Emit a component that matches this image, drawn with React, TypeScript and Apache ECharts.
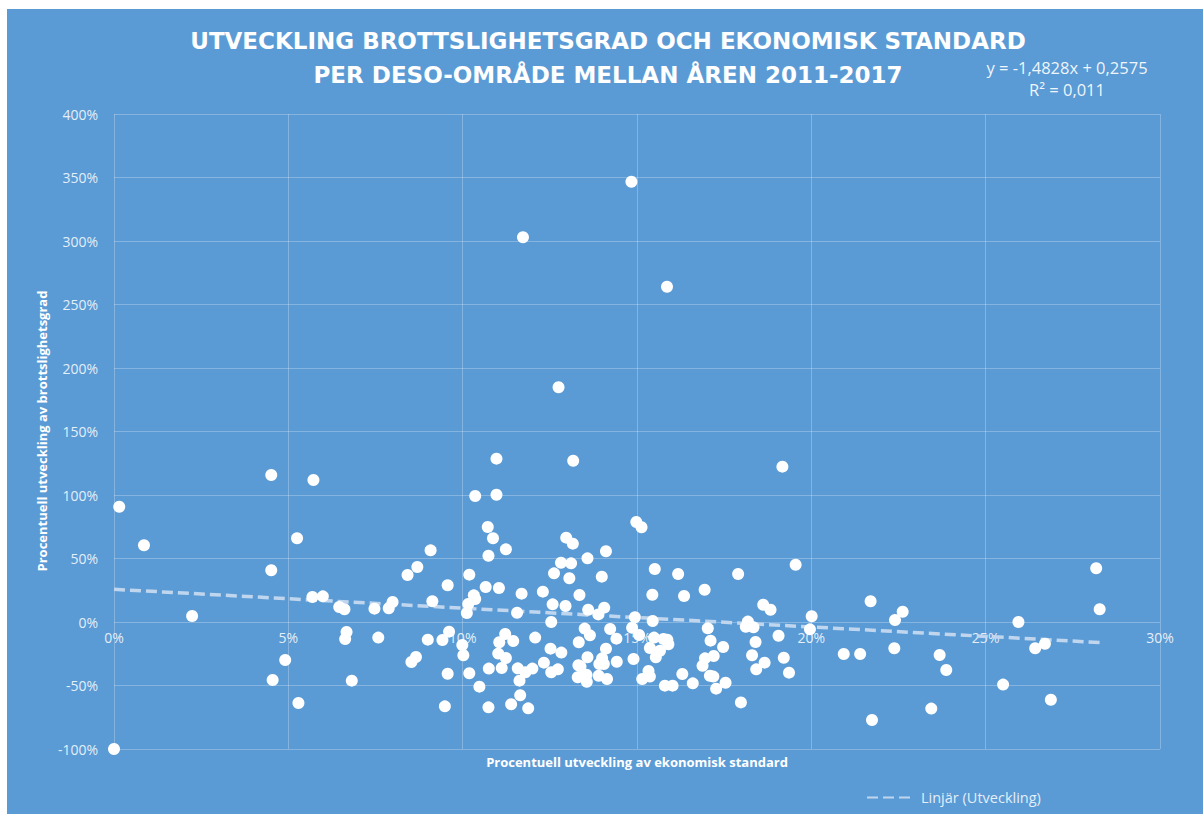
import React, { useEffect, useRef } from "react";
import * as echarts from "echarts";

// Procentuell utveckling av ekonomisk standard (x, %) and brottslighetsgrad (y, %)
const econDev: number[] = [
  0.15, 0.86, 2.24, 4.51, 5.72, 5.25, 4.51, 9.08, 8.42, 8.7, 9.57, 5.69, 5.99, 6.46, 6.61, 7.47, 7.88, 7.99, 9.13,
  6.67, 6.63, 7.58, 9.0, 9.42, 9.61, 4.91, 8.53, 8.66, 4.55, 6.82, 5.29, 9.57, 9.49, 0.0,
  14.84, 11.73, 15.86, 12.75,
  10.97, 13.17, 10.36, 10.97, 10.72, 10.87, 10.74, 11.24, 10.19, 10.66, 11.04, 10.32, 10.36, 10.16, 10.12, 11.69,
  11.56, 12.3, 12.62, 12.82, 13.11, 12.97, 13.16, 13.06, 13.58, 14.11, 13.99, 12.58, 12.95, 13.35, 13.6, 13.89,
  14.06, 12.54, 14.98, 15.13, 15.51, 15.44, 15.45, 14.94, 14.86, 15.06, 14.23, 13.5, 13.65, 13.33, 14.41, 14.11,
  14.0, 14.05, 13.92, 14.42, 13.58, 13.32, 13.38, 13.3, 13.55, 13.56, 13.9, 14.14, 14.9, 15.37, 15.49, 15.54,
  15.33, 15.15, 15.37, 11.22, 11.05, 11.45, 12.08, 11.02, 11.24, 9.99, 10.02, 10.75, 11.12, 11.58, 11.8, 12.0,
  11.63, 12.33, 12.52, 12.83, 12.54, 12.73, 10.19, 10.48, 10.74, 11.39, 11.65, 11.88,
  19.17, 16.18, 16.35, 16.94, 17.9, 19.55, 18.62, 18.83, 20.01, 19.96, 18.18, 18.12, 18.34, 17.03, 17.11, 17.47,
  18.4, 19.06, 18.3, 19.21, 18.66, 19.36, 18.42, 17.2, 16.95, 16.88, 17.09, 17.19, 17.54, 17.27, 17.98, 16.6,
  16.3, 15.8, 16.02, 15.76, 15.87, 15.9, 15.66, 20.93, 21.4,
  21.7, 21.74, 22.4, 22.62, 22.38, 23.44, 23.68, 23.87, 25.5, 25.94, 26.42, 26.7, 26.87, 28.17, 28.27,
];

const crimeDev: number[] = [
  90.8, 60.4, 4.7, 115.7, 111.8, 65.9, 40.7, 56.4, 37.0, 43.3, 28.9, 19.7, 20.2, 11.8, 10.0, 10.5, 10.8, 15.7, 16.3,
  -7.9, -13.4, -12.3, -13.9, -14.2, -7.6, -29.9, -31.5, -27.6, -45.7, -46.2, -63.8, -40.7, -66.4, -100,
  346.7, 302.9, 264.0, 184.8,
  128.6, 127.0, 99.2, 100.2, 74.8, 65.9, 52.2, 57.2, 37.3, 27.6, 26.8, 21.0, 18.1, 14.2, 7.1, 22.3,
  7.3, 23.9, 38.3, 46.7, 46.2, 66.4, 61.7, 34.4, 50.1, 55.7, 35.7, 13.9, 12.6, 21.3, 9.7, 6.0,
  11.3, 0.0, 78.7, 74.6, 41.7, 21.5, 0.8, 3.7, -4.5, -10.2, -5.5, -5.2, -10.5, -16.0, -13.1, -21.0,
  -28.6, -33.1, -33.1, -31.3, -27.8, -34.1, -35.0, -43.5, -41.5, -47.0, -42.3, -44.9, -29.1, -20.5, -12.3, -27.8,
  -38.6, -44.9, -43.0, -9.4, -16.0, -15.0, -12.3, -24.9, -28.3, -18.1, -26.2, -36.7, -36.2, -36.5, -39.6, -36.7,
  -46.2, -32.0, -21.0, -24.1, -39.6, -37.3, -40.4, -50.9, -67.2, -64.8, -57.7, -68.0,
  122.3, 37.8, 20.5, 25.4, 37.8, 45.1, 13.6, 9.7, 4.5, -5.8, 0.3, -3.7, -4.2, -5.0, -14.7, -19.7,
  -15.7, -10.8, -26.2, -28.1, -32.0, -39.9, -37.3, -26.8, -28.6, -34.4, -42.3, -43.0, -47.8, -52.5, -63.3, -48.3,
  -40.9, -50.1, -50.1, -13.4, -13.9, -17.6, -22.6, -25.2, -25.2,
  16.3, -77.2, 1.6, 8.1, -20.7, -68.2, -26.0, -37.8, -49.3, 0.0, -20.7, -17.1, -61.2, 42.3, 10.0,
];

// Linear trendline as displayed: y = -1,4828x + 0,2575
const TREND_SLOPE = -1.4828;
const TREND_INTERCEPT = 0.2575;

const TITLE_LINES = [
  "UTVECKLING BROTTSLIGHETSGRAD OCH EKONOMISK STANDARD",
  "PER DESO-OMRÅDE MELLAN ÅREN 2011-2017",
];
const EQUATION_TEXT = "y = -1,4828x + 0,2575";
const R2_TEXT = "R² = 0,011";
const X_TITLE = "Procentuell utveckling av ekonomisk standard";
const Y_TITLE = "Procentuell utveckling av brottslighetsgrad";
const TREND_NAME = "Linjär (Utveckling)";

const FONT = "'Open Sans', 'DejaVu Sans', sans-serif";
const TITLE_FONT = "'DejaVu Sans', 'Open Sans', sans-serif";

const X_MIN = 0;
const X_MAX = 30;
const Y_MIN = -100;
const Y_MAX = 400;

export default function App() {
  const ref = useRef<HTMLDivElement>(null);

  useEffect(() => {
    if (!ref.current) return;
    const chart = echarts.init(ref.current, undefined, { renderer: "svg" });

    const points = econDev.map((x, i) => [x, crimeDev[i]]);
    const xMaxData = Math.max(...econDev);
    const xMinData = Math.min(...econDev);
    const trend = [xMinData, xMaxData].map((x) => [x, 100 * (TREND_INTERCEPT + (TREND_SLOPE * x) / 100)]);

    const gridColor = "rgba(255,255,255,0.25)";
    const labelColor = "rgba(255,255,255,0.85)";

    const gridTop = 105;
    const gridBottom = 65;
    const plotHeight = 805 - gridTop - gridBottom;
    // x-axis labels sit next to the 0% line (axis crosses at zero)
    const zeroOffset = (plotHeight * (0 - Y_MIN)) / (Y_MAX - Y_MIN);

    chart.setOption({
      animation: false,
      backgroundColor: "#5B9BD5",
      textStyle: { fontFamily: FONT },
      grid: { left: 107, right: 43, top: gridTop, bottom: gridBottom, containLabel: false },
      xAxis: {
        type: "value",
        min: X_MIN,
        max: X_MAX,
        interval: 5,
        position: "bottom",
        offset: -zeroOffset,
        axisLine: { show: false, onZero: false },
        axisTick: { show: false },
        splitLine: { show: true, lineStyle: { color: gridColor, width: 1 } },
        axisLabel: {
          color: labelColor,
          fontSize: 14,
          fontFamily: FONT,
          margin: 8,
          formatter: (v: number) => `${v}%`,
        },
      },
      yAxis: {
        type: "value",
        min: Y_MIN,
        max: Y_MAX,
        interval: 50,
        axisLine: { show: false },
        axisTick: { show: false },
        splitLine: { show: true, lineStyle: { color: gridColor, width: 1 } },
        axisLabel: {
          color: labelColor,
          fontSize: 14,
          fontFamily: FONT,
          margin: 16,
          formatter: (v: number) => `${v}%`,
        },
      },
      legend: {
        data: [TREND_NAME],
        left: 859,
        top: 781,
        padding: 0,
        itemWidth: 44,
        itemHeight: 14,
        itemGap: 10,
        itemStyle: { opacity: 0 },
        textStyle: { color: labelColor, fontSize: 14.5, fontFamily: FONT, padding: [0, 0, 0, 5] },
      },
      series: [
        {
          name: TREND_NAME,
          type: "line",
          data: trend,
          symbol: "none",
          z: 1,
          lineStyle: { color: "#BFD6EE", width: 3.5, type: [11, 5] },
          itemStyle: { color: "#BFD6EE" },
        },
        {
          name: "Utveckling",
          type: "scatter",
          data: points,
          symbol: "circle",
          symbolSize: 12,
          z: 2,
          itemStyle: { color: "#FFFFFF", opacity: 1 },
        },
      ],
      graphic: [
        {
          type: "text",
          x: 601,
          y: 32,
          style: {
            text: TITLE_LINES[0],
            fill: "#FFFFFF",
            font: `bold 23px ${TITLE_FONT}`,
            textAlign: "center",
            textVerticalAlign: "middle",
          },
        },
        {
          type: "text",
          x: 601,
          y: 66,
          style: {
            text: TITLE_LINES[1],
            fill: "#FFFFFF",
            font: `bold 23px ${TITLE_FONT}`,
            textAlign: "center",
            textVerticalAlign: "middle",
          },
        },
        {
          type: "text",
          x: 1060,
          y: 58,
          style: {
            text: EQUATION_TEXT,
            fill: "rgba(255,255,255,0.92)",
            font: `16.5px ${FONT}`,
            textAlign: "center",
            textVerticalAlign: "middle",
          },
        },
        {
          type: "text",
          x: 1060,
          y: 80,
          style: {
            text: R2_TEXT,
            fill: "rgba(255,255,255,0.92)",
            font: `16.5px ${FONT}`,
            textAlign: "center",
            textVerticalAlign: "middle",
          },
        },
        {
          type: "text",
          x: 630,
          y: 753,
          style: {
            text: X_TITLE,
            fill: "#FFFFFF",
            font: `bold 13px ${FONT}`,
            textAlign: "center",
            textVerticalAlign: "middle",
          },
        },
        {
          type: "text",
          x: 35,
          y: 422,
          rotation: Math.PI / 2,
          style: {
            text: Y_TITLE,
            fill: "#FFFFFF",
            font: `bold 13px ${FONT}`,
            textAlign: "center",
            textVerticalAlign: "middle",
          },
        },
      ],
    });

    return () => chart.dispose();
  }, []);

  return (
    <div
      ref={ref}
      style={{ position: "fixed", left: 7, top: 9, width: 1196, height: 805 }}
    />
  );
}
